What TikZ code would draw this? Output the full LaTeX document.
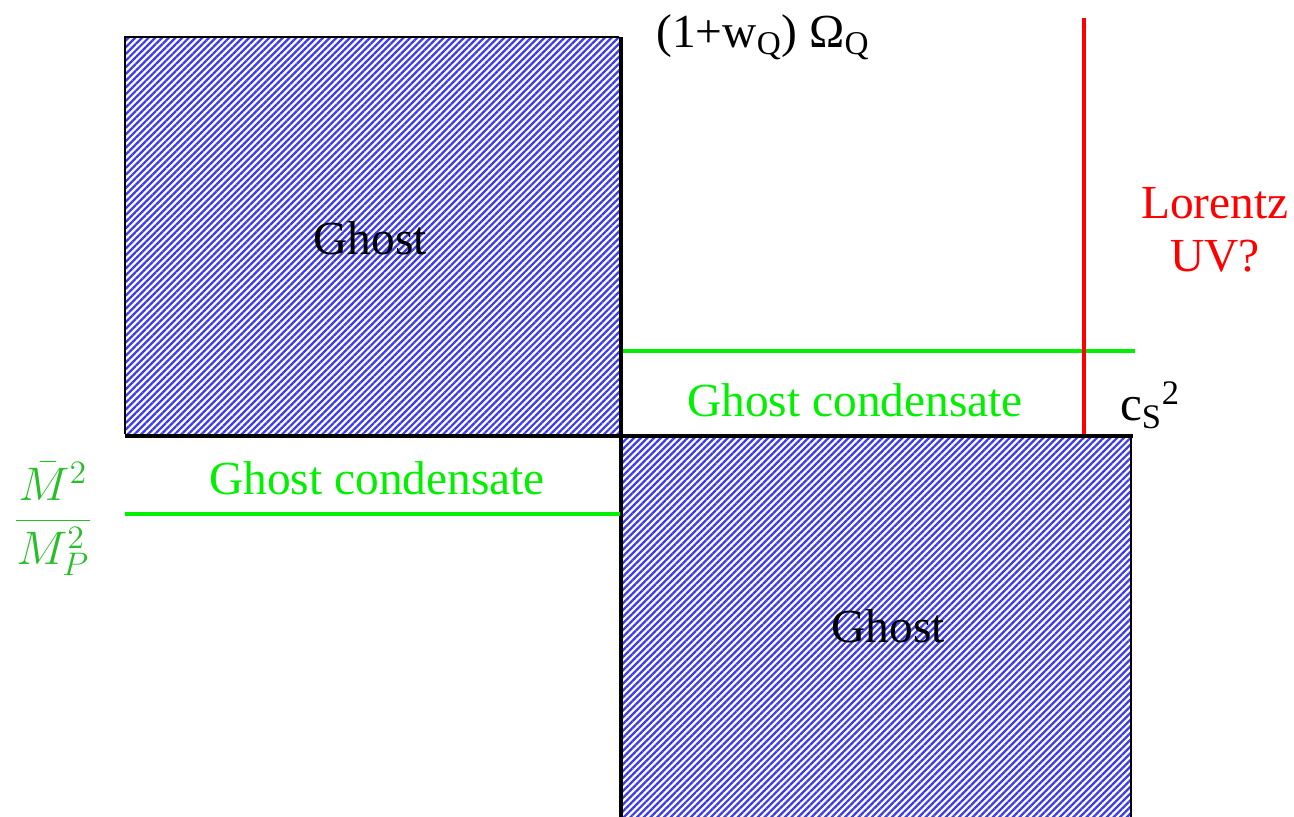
\documentclass[tikz,border=0pt]{standalone}
\usepackage{fontspec}
\setmainfont{Liberation Serif}
\usetikzlibrary{patterns.meta}

\definecolor{hatchblue}{RGB}{60,60,235}
\definecolor{lightgreen}{RGB}{0,240,0}
\definecolor{fracgreen}{RGB}{40,190,40}

\tikzset{
  ghostbox/.style={pattern={Lines[angle=45,distance=2.7pt,line width=1.3pt]},
    pattern color=hatchblue},
  border/.style={line width=1.1pt},
  axisline/.style={line width=2.8pt},
  condline/.style={line width=2.8pt, lightgreen},
  lorentzline/.style={line width=2.8pt, red},
  lab/.style={font=\fontsize{27}{30}\selectfont, inner sep=0pt}
}

\begin{document}
\begin{tikzpicture}[x=0.02cm, y=-0.02cm]
  \useasboundingbox (0,0) rectangle (1294,817);
  % hatched regions
  \fill[ghostbox] (125,37) rectangle (619,434);
  \draw[border] (619,37) -- (125,37) -- (125,434);
  \fill[ghostbox] (622,437) rectangle (1131,817);
  \draw[border] (1131,437) -- (1131,817);
  % axes
  \draw[axisline] (621,37) -- (621,817);
  \draw[axisline] (125,436) -- (1133,436);
  % condensate and lorentz lines
  \draw[condline] (623,351) -- (1135,351);
  \draw[condline] (125,514) -- (620,514);
  \draw[lorentzline] (1084,18) -- (1084,434);
  % labels
  \node[lab] (omega) at (763,37) {(1+w\textsubscript{Q}) Ω\textsubscript{Q}};
  \node[lab, red, align=center] (lorentz) at (1215,230) {Lorentz\\UV?};
  \node[lab, font=\fontsize{28}{30}\selectfont] (cs) at (1150,405) {c\textsubscript{S}\textsuperscript{2}};
  \node[lab] (ghostup) at (370,238) {Ghost};
  \node[lab] (ghostdown) at (888,626) {Ghost};
  \node[lab, lightgreen] (condup) at (855,400) {Ghost condensate};
  \node[lab, lightgreen] (conddown) at (377,478) {Ghost condensate};
  \node[lab, fracgreen, font=\LARGE] (ratio) at (53,519)
    {\scalebox{1.6}[1.55]{$\displaystyle\frac{\bar M^2}{M_P^2}$}};
\end{tikzpicture}
\end{document}
